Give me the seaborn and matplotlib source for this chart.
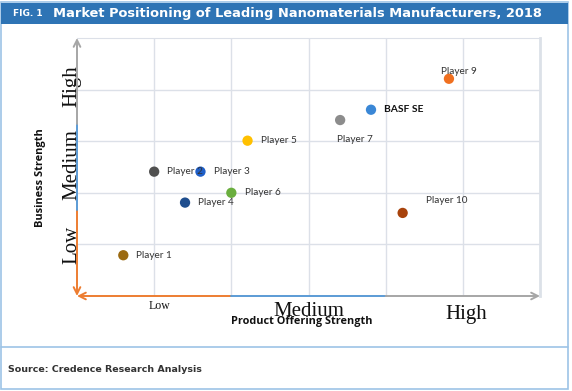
import pandas as pd
import matplotlib
matplotlib.use("Agg")
import matplotlib.pyplot as plt
from matplotlib.patches import Rectangle
import seaborn as sns

# Data (grid units: x 0-6, y 0-5)
players = ["Player 1", "Player 2", "Player 3", "Player 4", "Player 5",
           "Player 6", "Player 7", "BASF SE", "Player 9", "Player 10"]
product_strength = [0.60, 1.00, 1.60, 1.40, 2.21, 2.00, 3.41, 3.81, 4.82, 4.22]
business_strength = [0.79, 2.41, 2.41, 1.81, 3.01, 2.00, 3.41, 3.61, 4.21, 1.61]
colors = ["#9B6A11", "#505050", "#1F5FC8", "#1F4E8E", "#FFC000",
          "#6AAE3E", "#8C8C8C", "#3A87D6", "#F07020", "#A8430C"]

x_levels = ["Low", "Medium", "High"]
y_levels = ["Low", "Medium", "High"]

df = pd.DataFrame({"player": players, "x": product_strength, "y": business_strength})

sns.set_style("white")
plt.rcParams["font.family"] = ["DejaVu Sans"]

fig = plt.figure(figsize=(5.72, 3.91), dpi=100)
W, H = 572, 391


def fx(px):
    return px / W


def fy(py):
    return 1 - py / H


# frame, title bar, separator
fig.patches.append(Rectangle((fx(1), fy(389)), fx(567), 387 / H, transform=fig.transFigure,
                             fill=False, edgecolor="#9DC3E6", linewidth=1.2))
fig.patches.append(Rectangle((fx(1), fy(24)), fx(567), 21 / H, transform=fig.transFigure,
                             facecolor="#2E74B5", edgecolor="none"))
fig.lines.append(plt.Line2D([fx(1), fx(568)], [fy(347), fy(347)], transform=fig.transFigure,
                            color="#9DC3E6", linewidth=1.2))
fig.text(fx(13), fy(14), "FIG. 1", color="white", fontsize=6.5, fontweight="bold", va="center")
fig.text(fx(53), fy(14), "Market Positioning of Leading Nanomaterials Manufacturers, 2018",
         color="white", fontsize=9.4, fontweight="bold", va="center")
fig.text(fx(8), fy(369), "Source: Credence Research Analysis", color="#333333",
         fontsize=6.8, fontweight="bold", va="center")

ax = fig.add_axes([fx(77), fy(296), fx(540 - 77), (296 - 38) / H])
sns.scatterplot(data=df, x="x", y="y", hue="player", palette=colors, s=55,
                edgecolor="none", legend=False, ax=ax, zorder=3)

ax.set_xlim(0, 6)
ax.set_ylim(0, 5)
ax.set_xticks(range(1, 6))
ax.set_yticks(range(1, 5))
ax.grid(True, color="#DCE0E8", linewidth=1.0)
ax.tick_params(length=0, labelbottom=False, labelleft=False)
ax.set_xlabel("")
ax.set_ylabel("")
for side in ["left", "bottom"]:
    ax.spines[side].set_visible(False)
ax.spines["top"].set_color("#DCE0E8")
ax.spines["right"].set_color("#DCE1E8")
ax.spines["right"].set_linewidth(2)

# coloured axes with arrows
orange, blue, grey = "#ED7D31", "#5B9BD5", "#A6A6A6"
arrow = dict(arrowstyle="->", lw=1.4, shrinkA=0, shrinkB=0, mutation_scale=12)
ax.annotate("", xy=(0, 0), xytext=(0, 5 / 3), arrowprops=dict(arrow, color=orange),
            annotation_clip=False, zorder=5)
ax.plot([0, 0], [5 / 3, 10 / 3], color=blue, lw=1.4, clip_on=False, zorder=5)
ax.annotate("", xy=(0, 5), xytext=(0, 10 / 3), arrowprops=dict(arrow, color=grey),
            annotation_clip=False, zorder=5)
ax.annotate("", xy=(0, 0), xytext=(2, 0), arrowprops=dict(arrow, color=orange),
            annotation_clip=False, zorder=5)
ax.plot([2, 4], [0, 0], color=blue, lw=1.4, clip_on=False, zorder=5)
ax.annotate("", xy=(6, 0), xytext=(4, 0), arrowprops=dict(arrow, color=grey),
            annotation_clip=False, zorder=5)

# level labels
serif = ["Liberation Serif", "DejaVu Serif"]
for lab, yv in zip(y_levels, [1.0, 2.54, 4.06]):
    ax.text(-0.07, yv, lab, rotation=90, ha="center", va="center", fontsize=15,
            family=serif, color="#111111", zorder=4)
ax.text(1.07, -0.2, x_levels[0], ha="center", va="center", fontsize=8.5, family=serif, color="#111111")
ax.text(3.01, -0.31, x_levels[1], ha="center", va="center", fontsize=15, family=serif, color="#111111")
ax.text(5.05, -0.36, x_levels[2], ha="center", va="center", fontsize=15, family=serif, color="#111111")

ax.text(2.91, -0.5, "Product Offering Strength", ha="center", va="center", fontsize=7.8,
        fontweight="bold", family=["Open Sans", "DejaVu Sans"], color="#111111")
fig.text(fx(40), fy(178), "Business Strength", rotation=90, ha="center", va="center",
         fontsize=7.9, fontweight="bold", family=["Open Sans", "DejaVu Sans"], color="#111111")

# point labels (offsets in points)
offsets = {"Player 7": (-2, -14, "left"), "Player 9": (-6, 5, "left"),
           "Player 10": (17, 9, "left")}
for name, xv, yv in zip(players, product_strength, business_strength):
    dx, dy, ha = offsets.get(name, (9.5, 0, "left"))
    ax.annotate(name, (xv, yv), xytext=(dx, dy), textcoords="offset points",
                ha=ha, va="center", fontsize=7.2 if name != "BASF SE" else 7.4,
                fontweight="bold" if name == "BASF SE" else "normal",
                family=["Lato", "DejaVu Sans"], color="#111111" if name == "BASF SE" else "#333333")

fig.savefig("out.png", dpi=100)
